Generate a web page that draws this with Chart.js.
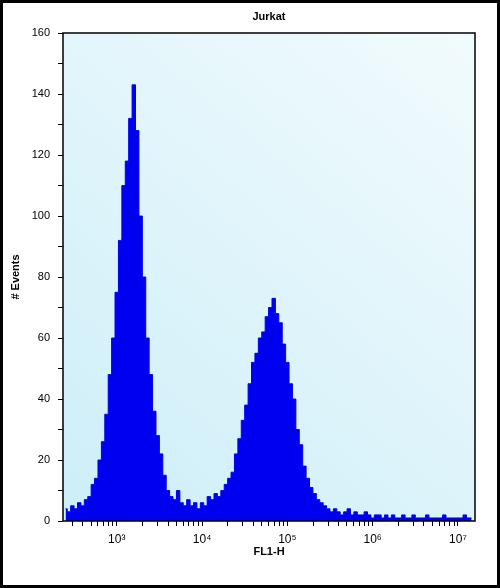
<!DOCTYPE html>
<html><head><meta charset="utf-8">
<script src="https://cdn.jsdelivr.net/npm/chart.js@4"></script>
<style>html,body{margin:0;padding:0;background:#000;}#w{position:absolute;left:3px;top:3px;width:494px;height:582px;background:#fff;}</style>
</head><body><div id="w"><canvas id="c" width="494" height="582"></canvas></div>
<script>
const binStart = 2.40, binStep = 0.04;
const counts = [4,3,5,4,6,5,7,8,12,14,20,26,35,48,60,75,92,110,118,132,143,128,100,80,60,48,36,28,22,15,10,8,7,10,6,5,7,5,6,4,
6,5,8,7,9,8,10,12,14,16,22,27,33,38,45,52,55,60,62,67,70,73,68,65,58,52,45,40,30,25,18,14,11,9,7,6,5,4,3,4,
3,2,3,4,2,3,2,2,3,2,1,2,2,1,2,1,2,1,1,2,1,1,2,1,1,1,2,1,1,1,1,2,1,1,1,1,1,2,1,1];
const yTicks = [0,20,40,60,80,100,120,140,160];
const xDecades = [3,4,5,6,7];
const sup = {3:'³',4:'⁴',5:'⁵',6:'⁶',7:'⁷'};
const pts = counts.map((v,i)=>({x:binStart+binStep*i, y:v}));
const bg = {id:'bg', beforeDraw(ch){const a=ch.chartArea,c=ch.ctx;const g=c.createLinearGradient(a.left,a.bottom,a.right,a.top);g.addColorStop(0,'#cdeef8');g.addColorStop(1,'#f2fbfd');c.save();c.fillStyle=g;c.fillRect(a.left,a.top,a.right-a.left,a.bottom-a.top);c.restore();},
 afterDraw(ch){const a=ch.chartArea,c=ch.ctx;c.save();c.strokeStyle='#000';c.lineWidth=1.5;c.strokeRect(a.left,a.top,a.right-a.left,a.bottom-a.top);
 c.fillStyle='#000';c.font='bold 11px Arial, Liberation Sans';c.textAlign='center';c.fillText('Jurkat',(a.left+a.right)/2,17);
 c.fillText('FL1-H',(a.left+a.right)/2,552);c.translate(16,(a.top+a.bottom)/2);c.rotate(-Math.PI/2);c.fillText('# Events',0,0);c.restore();}};
new Chart(document.getElementById('c'),{type:'line',data:{datasets:[{data:pts,stepped:'middle',fill:'origin',backgroundColor:'#0000f0',borderColor:'#0000f0',borderWidth:1,pointRadius:0}]},
options:{responsive:false,animation:false,layout:{padding:{top:30,right:22,left:0,bottom:0}},plugins:{legend:{display:false},tooltip:{enabled:false}},
scales:{x:{type:'linear',min:2.37,max:7.2,afterFit(s){s.height=64;},
 afterBuildTicks(s){const t=[];for(let d=2;d<=7;d++){for(let k=1;k<10;k++){const v=d+Math.log10(k);if(v>=2.37&&v<=7.2)t.push({value:v});}}s.ticks=t;},
 grid:{drawOnChartArea:false,drawTicks:true,tickLength:5,color:'#000'},border:{display:false},
 ticks:{color:'#000',font:{size:12,family:'Arial, Liberation Sans'},autoSkip:false,maxRotation:0,padding:6,callback(v){const r=Math.round(v);return Math.abs(v-r)<1e-6&&xDecades.includes(r)?'10'+sup[r]:'';}}},
 y:{min:0,max:160,afterFit(s){s.width=60;},afterBuildTicks(s){const t=[];for(let v=0;v<=160;v+=10)t.push({value:v});s.ticks=t;},
 grid:{drawOnChartArea:false,drawTicks:true,tickLength:5,color:'#000'},border:{display:false},
 ticks:{color:'#000',font:{size:11,family:'Arial, Liberation Sans'},padding:8,callback(v){return yTicks.includes(v)?String(v):'';}}}}},plugins:[bg]});
</script></body></html>
